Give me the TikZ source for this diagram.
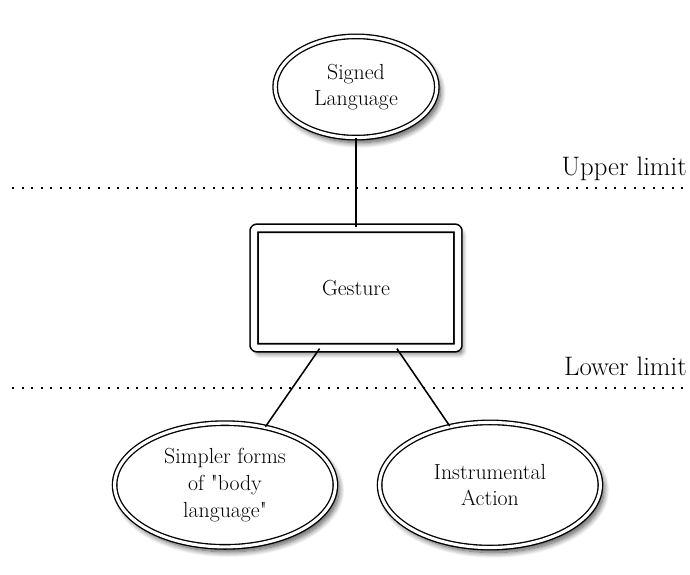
\documentclass[tikz,border=0pt]{standalone}
\usepackage{tikz}
\usetikzlibrary{shapes.geometric,shadows.blur}
\tikzset{
  Oval/.style={
    ellipse, draw=black, line width=0.95pt,
    double=white, double distance=2.2pt,
    fill=white, align=center, font=\fontsize{15.5}{19}\selectfont,
    blur shadow={shadow xshift=2.5pt, shadow yshift=-3.5pt, shadow blur radius=4pt, shadow blur steps=12, shadow opacity=70}
  },
  Frame/.style={
    rectangle, draw=black, line width=1.2pt,
    double=white, double distance=4.4pt,
    fill=white, rounded corners=1.5pt, font=\fontsize{15.5}{19}\selectfont,
    blur shadow={shadow xshift=2.5pt, shadow yshift=-3.5pt, shadow blur radius=4pt, shadow blur steps=12, shadow opacity=70}
  },
  Limit/.style={line width=1.4pt, dash pattern=on 1.4pt off 5.4pt},
  Link/.style={line width=1.1pt}
}

\begin{document}
\begin{tikzpicture}[x=0.025cm, y=-0.025cm, line join=round]
  \useasboundingbox (0,0) rectangle (690,574);

  % limits
  \draw[Limit] (12,188) -- (690,188);
  \draw[Limit] (12,388) -- (690,388);
  \node[anchor=base east, font=\fontsize{19}{23}\selectfont, inner sep=0pt] (upper) at (687,175) {Upper limit};
  \node[anchor=base east, font=\fontsize{19}{23}\selectfont, inner sep=0pt] (lower) at (687,375) {Lower limit};

  % nodes
  \node[Oval, minimum width=115pt, minimum height=72pt] (signed) at (356,87) {Signed\\Language};
  \node[Frame, minimum width=145pt, minimum height=85pt] (gesture) at (356,288) {Gesture};
  \node[Oval, minimum width=157pt, minimum height=88pt] (simpler) at (225,485) {Simpler forms\\of \textquotedbl body\\language\textquotedbl};
  \node[Oval, minimum width=157pt, minimum height=89pt] (instr) at (490,485) {Instrumental\\Action};

  % links
  \draw[Link] (signed) -- (gesture);
  \draw[Link] (gesture.239) -- (simpler);
  \draw[Link] (gesture.304) -- (instr);
\end{tikzpicture}
\end{document}
